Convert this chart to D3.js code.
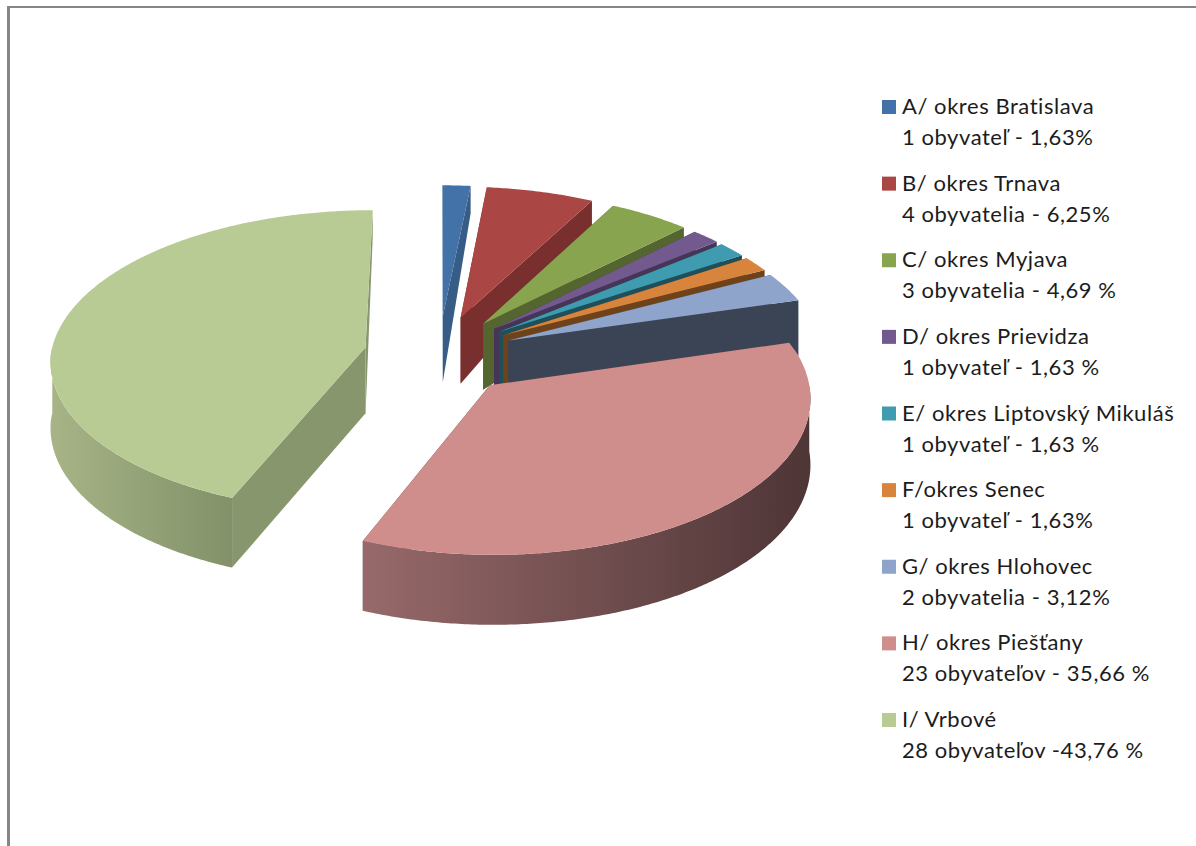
<!DOCTYPE html>
<html>
<head>
<meta charset="utf-8">
<script src="https://cdn.jsdelivr.net/npm/d3@7"></script>
<style>
  html, body { margin: 0; padding: 0; background: #fff; }
  svg { display: block; }
  text { font-family: Lato, "Open Sans", sans-serif; fill: #1c1c1c; font-size: 22px; letter-spacing: .55px; }
</style>
</head>
<body>
<svg width="1196" height="846"></svg>
<script>
var names = [ 'A/ okres Bratislava', 'B/ okres Trnava', 'C/ okres Myjava'
            , 'D/ okres Prievidza', 'E/ okres Liptovský Mikuláš', 'F/okres Senec'
            , 'G/ okres Hlohovec', 'H/ okres Piešťany', 'I/ Vrbové' ]
var details = [ '1 obyvateľ - 1,63%', '4 obyvatelia - 6,25%', '3 obyvatelia - 4,69 %'
              , '1 obyvateľ - 1,63 %', '1 obyvateľ - 1,63 %', '1 obyvateľ - 1,63%'
              , '2 obyvatelia - 3,12%', '23 obyvateľov - 35,66 %', '28 obyvateľov -43,76 %' ]
var shares = [1.63, 6.25, 4.69, 1.63, 1.63, 1.63, 3.12, 35.66, 43.76]

var topColors  = ['#4272a8', '#aa4644', '#88a44e', '#725a8f', '#3f9bb0', '#d9843c', '#8fa4ca', '#cf8d8c', '#b8cb94']
var faceColors = ['#375d87', '#782f2e', '#556530', '#463557', '#1f5059', '#6e431b', '#3b4455', '#5a3c3d', '#88966d']
var wallColors = { 7: ['#97696a', '#4e3536'], 8: ['#a6b486', '#83916a'] }

var svg = d3.select('svg')
  , defs = svg.append('defs')

// frame left over from the spreadsheet screenshot
svg.append('rect').attr('x', 7).attr('y', 6).attr('width', 1189).attr('height', 2).attr('fill', '#868686')
svg.append('rect').attr('x', 7).attr('y', 6).attr('width', 3).attr('height', 840).attr('fill', '#868686')

// tilted pie plane, u to the right, v towards the viewer
var x = d3.scaleLinear().domain([-1, 1]).range([439 - 318, 439 + 318])
  , y = d3.scaleLinear().domain([-1, 1]).range([355 - 155, 355 + 155])
  , perspective = d3.scaleLinear().domain([-1.25, 0, 1.2]).range([.87, .99, 1.08])
  , depth = d3.scaleLinear().domain([-1, 0, 1]).range([27, 66, 70]).clamp(true)
  , explodeX = .239
  , explodeY = .26

var line = d3.line()
var arcs = d3.pie().sort(null)(shares)

function project(u, v) {
  var s = perspective(v)
  return [x(u * s), y(v * s)]
}

function rim(a, mid, down) {
  var u = Math.sin(a), v = -Math.cos(a)
    , p = project(explodeX * Math.sin(mid) + u, -explodeY * Math.cos(mid) + v)
  return [p[0], p[1] + (down ? depth(v) : 0)]
}

function angles(a0, a1) {
  var n = Math.max(2, Math.ceil((a1 - a0) / .01))
  return d3.range(n + 1).map(function (i) { return a0 + (a1 - a0) * i / n })
}

function drawSlice(d) {
  var i = d.index
    , mid = (d.startAngle + d.endAngle) / 2
    , apex = project(explodeX * Math.sin(mid), -explodeY * Math.cos(mid))
    , apexDown = [apex[0], apex[1] + depth(0)]
    , g = svg.append('g')

  ;[d.startAngle, d.endAngle].forEach(function (a) {
    g.append('path')
      .attr('d', line([apex, rim(a, mid), rim(a, mid, true), apexDown]) + 'Z')
      .attr('fill', faceColors[i])
  })

  // outer wall only shows on the near half of the circle
  var a0 = Math.max(d.startAngle, Math.PI / 2), a1 = Math.min(d.endAngle, Math.PI * 1.5)
  if (a1 > a0) {
    var xs = angles(a0, a1)
      , upper = xs.map(function (a) { return rim(a, mid) })
      , lower = xs.map(function (a) { return rim(a, mid, true) }).reverse()
      , grad = defs.append('linearGradient').attr('id', 'wall' + i)
    grad.append('stop').attr('offset', 0).attr('stop-color', wallColors[i][0])
    grad.append('stop').attr('offset', 1).attr('stop-color', wallColors[i][1])
    g.append('path').attr('d', line(upper.concat(lower)) + 'Z').attr('fill', 'url(#wall' + i + ')')
  }

  var top = [apex].concat(angles(d.startAngle, d.endAngle).map(function (a) { return rim(a, mid) }))
  g.append('path').attr('d', line(top) + 'Z').attr('fill', topColors[i])
}

// back to front, H sits over G and over the apex of the small slices
;[0, 1, 2, 3, 4, 5, 6, 8, 7].forEach(function (i) { drawSlice(arcs[i]) })

// legend
var rowY = d3.scaleLinear().domain([0, 8]).range([107, 720])
var rows = svg.selectAll('g.row').data(names).enter().append('g').attr('class', 'row')
  .attr('transform', function (d, i) { return 'translate(0,' + rowY(i) + ')' })

rows.append('rect').attr('x', 882).attr('y', -7).attr('width', 14).attr('height', 14)
  .attr('fill', function (d, i) { return topColors[i] })
rows.append('text').attr('x', 902).attr('y', 7).text(function (d) { return d })
rows.append('text').attr('x', 902).attr('y', 38).text(function (d, i) { return details[i] })
</script>
</body>
</html>
